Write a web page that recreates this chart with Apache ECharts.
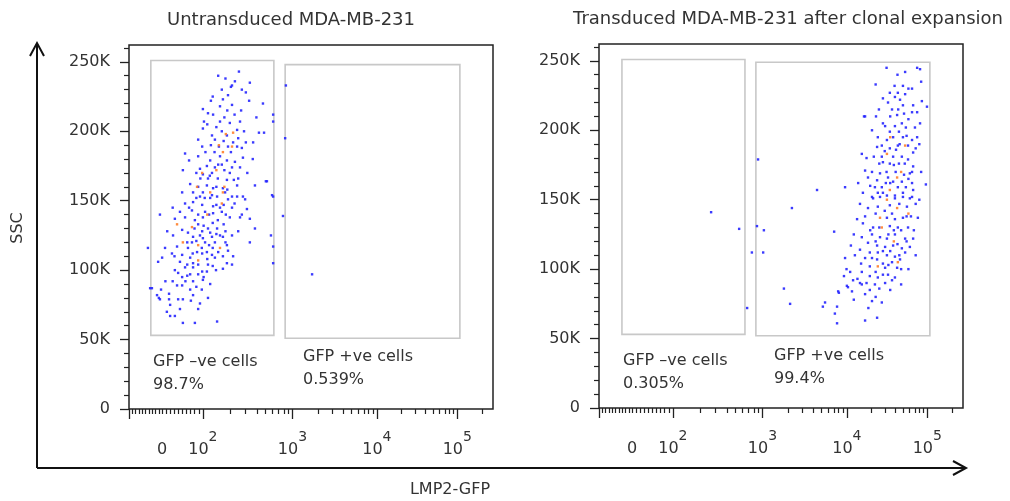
<!DOCTYPE html>
<html>
<head>
<meta charset="utf-8">
<script src="https://cdn.jsdelivr.net/npm/echarts@6/dist/echarts.min.js"></script>
<style>
html, body { margin: 0; padding: 0; background: #fff; }
#chart { width: 1010px; height: 501px; }
</style>
</head>
<body>
<div id="chart"></div>
<script>
// x = LMP2-GFP in display channels (0-1000 across the plot, biexponential)
// y = SSC in thousands
var titles = ['Untransduced MDA-MB-231', 'Transduced MDA-MB-231 after clonal expansion'];
var xLabelPos = [91, 203, 449, 681, 902];      // 0, 10^2, 10^3, 10^4, 10^5
var xLabelExp = ['', '2', '3', '4', '5'];
var decadePos = [203, 449, 681, 902, 1130];   // 10^2 .. 10^6
var yLabelVals = [0, 50, 100, 150, 200, 250];
var gateNames = ['GFP \u2013ve cells', 'GFP +ve cells'];
var pctLeft = ['98.7%', '0.539%'];
var pctRight = ['0.305%', '99.4%'];
// [xMin, xMax, yMin, yMax]
var gatesLeft = [[60, 398, 53, 251], [429, 909, 51, 248]];
var gatesRight = [[63, 401, 53, 251], [431, 909, 52, 249]];

var leftBlue = [[302,243],[283,233],[291,236],[332,235],[321,228],[255,230],[272,226],[258,223],[225,222],[330,222],[368,220],[308,215],[203,216],[250,218],[283,219],[217,213],[231,212],[250,207],[277,206],[305,207],[206,207],[203,202],[255,200],[269,197],[297,201],[316,200],[357,199],[371,199],[228,197],[190,194],[236,194],[286,192],[321,192],[341,192],[272,189],[247,189],[201,189],[297,189],[154,184],[190,182],[223,179],[250,182],[269,179],[291,178],[313,181],[165,179],[214,175],[236,174],[255,176],[283,174],[305,174],[148,172],[195,173],[203,169],[228,170],[277,170],[217,166],[244,166],[269,165],[288,165],[379,164],[168,162],[190,160],[214,161],[231,159],[258,159],[297,161],[346,161],[176,156],[203,156],[228,154],[242,153],[264,156],[283,153],[313,153],[146,156],[396,212],[396,207],[393,154],
  [195,153],[223,152],[272,151],[297,153],[319,151],[176,149],[154,148],[201,147],[231,146],[250,145],[283,145],[173,143],[209,142],[231,141],[266,140],[140,142],[324,144],[85,140],[126,137],[154,138],[181,136],[203,138],[244,136],[277,138],[305,138],[332,137],[190,133],[217,130],[242,130],[146,129],[162,127],[201,128],[223,127],[346,130],[121,125],[176,124],[203,123],[228,124],[258,124],[283,125],[390,125],[173,120],[209,120],[236,120],[269,118],[332,120],[52,116],[99,116],[132,117],[162,116],[187,113],[214,113],[272,114],[118,112],[146,111],[201,112],[228,111],[286,110],[91,109],[168,109],[236,109],[258,110],[80,106],[140,106],[176,105],[217,104],[269,105],[283,104],[126,100],[154,102],[176,102],[201,99],[239,100],[258,101],[146,95],[168,97],[190,97],[214,99],[176,92],[203,93],[223,90],[132,89],[146,89],[63,87],[88,86],[168,86],[77,82],[110,83],[176,82],[217,80],[110,79],[135,79],[148,79],[85,79],[195,76],[113,75],[190,72],[104,70],[113,67],[126,67],[148,62],[181,62],[242,63],[423,139],[396,105],
  [58,87],[431,233],[429,195],[376,164],[396,153],[396,117],[503,97],[82,80],
  [215,205],[240,203],[262,210],[290,212],[225,190],[260,193],[280,185],[300,195],[235,185],[210,185],[245,176],[262,172],[222,168],[196,166],[185,170],[240,160],[270,158],[300,166],[208,152],[240,147],[260,147],[290,148],[185,152],[165,145],[190,140],[220,140],[255,142],[230,134],[260,133],[205,132],[180,130],[195,125],[240,126],[265,128],[160,120],[185,121],[220,118],[250,125],[200,116],[230,116],[175,112],[215,108],[245,113],[190,104],[160,104],[230,103],[205,95],[160,96],[135,98],[185,88],[155,92],[120,92],[200,86],[100,92],[170,78],[140,72],[310,188],[325,170],[270,215],[230,225],[310,230],[350,210],[340,180],[120,145],[105,128],[125,110],[300,128],[310,140],[265,120],[280,232],[245,240],[265,238]];
var leftOrange = [[286,199],[266,198],[247,190],[258,185],[201,170],[187,160],[223,156],[258,156],[283,189],[255,148],[132,133],[173,131],[148,120],[190,118],[250,116],[190,107],[240,172],[215,140],[262,160]];

var rightBlue = [[874,245],[882,244],[841,242],[885,235],[835,232],[799,227],[821,227],[813,224],[841,226],[780,223],[794,220],[827,222],[887,221],[901,217],[769,215],[805,215],[835,218],[863,218],[819,211],[838,212],[860,213],[874,213],[731,210],[761,210],[832,205],[882,205],[786,203],[813,203],[843,202],[868,202],[799,199],[824,199],[766,195],[791,193],[808,195],[835,195],[860,193],[874,195],[777,189],[821,189],[849,189],[816,186],[764,188],[799,187],[863,184],[722,183],[755,181],[777,181],[808,181],[832,181],[849,179],[780,177],[799,176],[824,176],[863,174],[731,171],[750,170],[772,169],[794,166],[838,168],[854,169],[739,166],[764,164],[788,162],[808,163],[832,163],[860,162],[758,159],[777,159],[821,159],[843,159],[863,157],[898,161],[599,157],[676,159],[766,155],[791,153],[813,153],[835,155],[750,152],[860,152],
  [530,144],[717,147],[753,151],[772,152],[813,151],[835,152],[854,151],[739,144],[766,145],[799,146],[846,145],[709,136],[731,138],[791,137],[813,136],[835,137],[857,138],[876,137],[725,133],[753,130],[799,131],[821,130],[849,130],[646,127],[722,123],[750,125],[772,123],[791,122],[813,125],[841,122],[863,122],[739,119],[764,117],[786,116],[808,117],[832,115],[854,116],[692,117],[717,114],[744,112],[766,112],[791,110],[813,109],[841,112],[676,108],[703,110],[731,108],[764,107],[780,104],[805,105],[744,102],[786,101],[819,101],[690,98],[722,98],[744,95],[766,94],[794,96],[813,94],[673,95],[698,92],[722,89],[758,89],[786,90],[805,92],[830,89],[681,88],[695,84],[731,82],[657,84],[744,85],[508,86],[525,75],[621,76],[615,73],[654,73],[750,77],[777,76],[764,65],[648,68],[654,61],[731,63],
  [308,141],[385,129],[437,179],[434,131],[453,128],[728,210],[420,112],[451,112],[407,72],[659,83],[684,87],[717,90],[827,107],
  [800,210],[850,208],[780,205],[826,190],[845,196],[870,187],[785,185],[810,175],[840,176],[770,176],[790,170],[815,170],[860,170],[745,160],[800,162],[850,165],[780,155],[825,147],[870,147],[760,140],[785,142],[805,140],[845,138],[865,128],[745,128],[770,130],[810,128],[830,128],[795,125],[760,120],[820,118],[845,120],[780,113],[800,113],[825,110],[750,108],[795,103],[830,100],[760,98],[780,96],[720,104],[710,93],[735,90],[770,86],[800,85],[700,78],[740,72],[760,80],[680,100],[700,125],[820,240],[860,230],[812,232],[880,190],[885,170],[880,150],[870,110],[850,100],[760,233],[750,200],[735,180],[725,155],[712,162],[850,230],[790,245],[822,215]];
var rightOrange = [[841,189],[791,183],[819,166],[799,157],[791,150],[819,144],[772,137],[777,130],[821,105],[766,102],[830,170],[810,120],[850,140],[800,195]];

var FONT = 'DejaVu Sans';
var INK = '#222';

// minor ticks: linear steps of 10 around zero, log steps 2..9 per decade
function xMinorTicks() {
    var t = [91];
    for (var v = 10; v < 100; v += 10) {
        t.push(91 + v * 1.12);
        t.push(91 - v * 0.91);
    }
    for (var d = 0; d < 4; d++) {
        for (var m = 2; m < 10; m++) {
            var p = decadePos[d] + Math.log10(m) * (decadePos[d + 1] - decadePos[d]);
            if (p < 1000) t.push(p);
        }
    }
    return t;
}
var xMajor = [0].concat(decadePos.slice(0, 4));
var yMinor = [];
for (var k = 10; k <= 260; k += 10) {
    if (k % 50 !== 0) yMinor.push(k);
}

var grids = [], xAxes = [], yAxes = [], series = [], graphics = [];
var panels = [
    { left: 129, top: 45, blue: leftBlue, orange: leftOrange, gates: gatesLeft },
    { left: 599, top: 44, blue: rightBlue, orange: rightOrange, gates: gatesRight }
];

panels.forEach(function (p, i) {
    grids.push({
        left: p.left, top: p.top, width: 364, height: 364,
        show: true, borderColor: INK, borderWidth: 1.5, backgroundColor: '#fff'
    });
    // major x ticks with labels
    xAxes.push({
        gridIndex: i, type: 'value', min: 0, max: 1000, position: 'bottom',
        axisLine: { show: false }, splitLine: { show: false },
        axisTick: { customValues: xMajor, length: 10, lineStyle: { color: INK, width: 1.3 } },
        axisLabel: {
            customValues: xLabelPos, margin: 21, color: '#333',
            formatter: function (v) {
                var j = xLabelPos.indexOf(v);
                return j <= 0 ? '{b|0}' : '{b|10}{s|' + xLabelExp[j] + '}';
            },
            rich: {
                b: { fontSize: 16, fontFamily: FONT, color: '#333', lineHeight: 28, verticalAlign: 'bottom' },
                s: { fontSize: 14, fontFamily: FONT, color: '#333', lineHeight: 28, verticalAlign: 'top' }
            }
        }
    });
    // minor x ticks
    xAxes.push({
        gridIndex: i, type: 'value', min: 0, max: 1000, position: 'bottom',
        axisLine: { show: false }, splitLine: { show: false },
        axisTick: { customValues: xMinorTicks(), length: 5, lineStyle: { color: INK, width: 1.2 } },
        axisLabel: { show: false }
    });
    yAxes.push({
        gridIndex: i, type: 'value', min: 0, max: 262.144, position: 'left',
        axisLine: { show: false }, splitLine: { show: false },
        axisTick: { customValues: yLabelVals, length: 9, lineStyle: { color: INK, width: 1.3 } },
        axisLabel: {
            customValues: yLabelVals, margin: 19, fontSize: 16, fontFamily: FONT, color: '#333',
            formatter: function (v) { return v === 0 ? '0' : v + 'K'; }
        }
    });
    yAxes.push({
        gridIndex: i, type: 'value', min: 0, max: 262.144, position: 'left',
        axisLine: { show: false }, splitLine: { show: false },
        axisTick: { customValues: yMinor, length: 5, lineStyle: { color: INK, width: 1.2 } },
        axisLabel: { show: false }
    });

    series.push({
        type: 'scatter', xAxisIndex: i * 2, yAxisIndex: i * 2,
        data: p.blue, symbol: 'rect', symbolSize: 2.4, silent: true,
        itemStyle: { color: '#2626ff', opacity: 0.9 },
        markArea: {
            silent: true,
            itemStyle: { color: 'rgba(0,0,0,0)', borderColor: '#c8c8c8', borderWidth: 1.6 },
            data: p.gates.map(function (g) {
                return [{ coord: [g[0], g[3]] }, { coord: [g[1], g[2]] }];
            })
        }
    });
    series.push({
        type: 'scatter', xAxisIndex: i * 2, yAxisIndex: i * 2,
        data: p.orange, symbol: 'rect', symbolSize: 2.4, silent: true,
        itemStyle: { color: '#ff7f2a', opacity: 0.9 }
    });
});

function txt(x, y, s, size, align) {
    return {
        type: 'text', x: x, y: y, silent: true,
        style: {
            text: s, fill: '#333', font: size + 'px "' + FONT + '"',
            textAlign: align || 'left', textVerticalAlign: 'middle'
        }
    };
}

graphics.push(txt(291, 20, titles[0], 18, 'center'));
graphics.push(txt(788, 19, titles[1], 18, 'center'));
// gate annotations
graphics.push(txt(153, 362, gateNames[0], 16));
graphics.push(txt(153, 385, pctLeft[0], 16));
graphics.push(txt(303, 357, gateNames[1], 16));
graphics.push(txt(303, 380, pctLeft[1], 16));
graphics.push(txt(623, 361, gateNames[0], 16));
graphics.push(txt(623, 384, pctRight[0], 16));
graphics.push(txt(774, 356, gateNames[1], 16));
graphics.push(txt(774, 379, pctRight[1], 16));
// outer arrows and axis names
var arrowStyle = { stroke: '#111', lineWidth: 2, fill: null };
graphics.push({ type: 'polyline', shape: { points: [[37, 468], [37, 43]] }, style: arrowStyle, silent: true });
graphics.push({ type: 'polyline', shape: { points: [[30, 56], [37, 43], [44, 56]] }, style: arrowStyle, silent: true });
graphics.push({ type: 'polyline', shape: { points: [[37, 468], [966, 468]] }, style: arrowStyle, silent: true });
graphics.push({ type: 'polyline', shape: { points: [[953, 461], [966, 468], [953, 475]] }, style: arrowStyle, silent: true });
var ssc = txt(18, 228, 'SSC', 16, 'center');
ssc.rotation = Math.PI / 2;
graphics.push(ssc);
graphics.push(txt(450, 490, 'LMP2-GFP', 16, 'center'));

var chart = echarts.init(document.getElementById('chart'));
chart.setOption({
    animation: false,
    backgroundColor: '#fff',
    grid: grids,
    xAxis: xAxes,
    yAxis: yAxes,
    series: series,
    graphic: graphics
});
</script>
</body>
</html>
